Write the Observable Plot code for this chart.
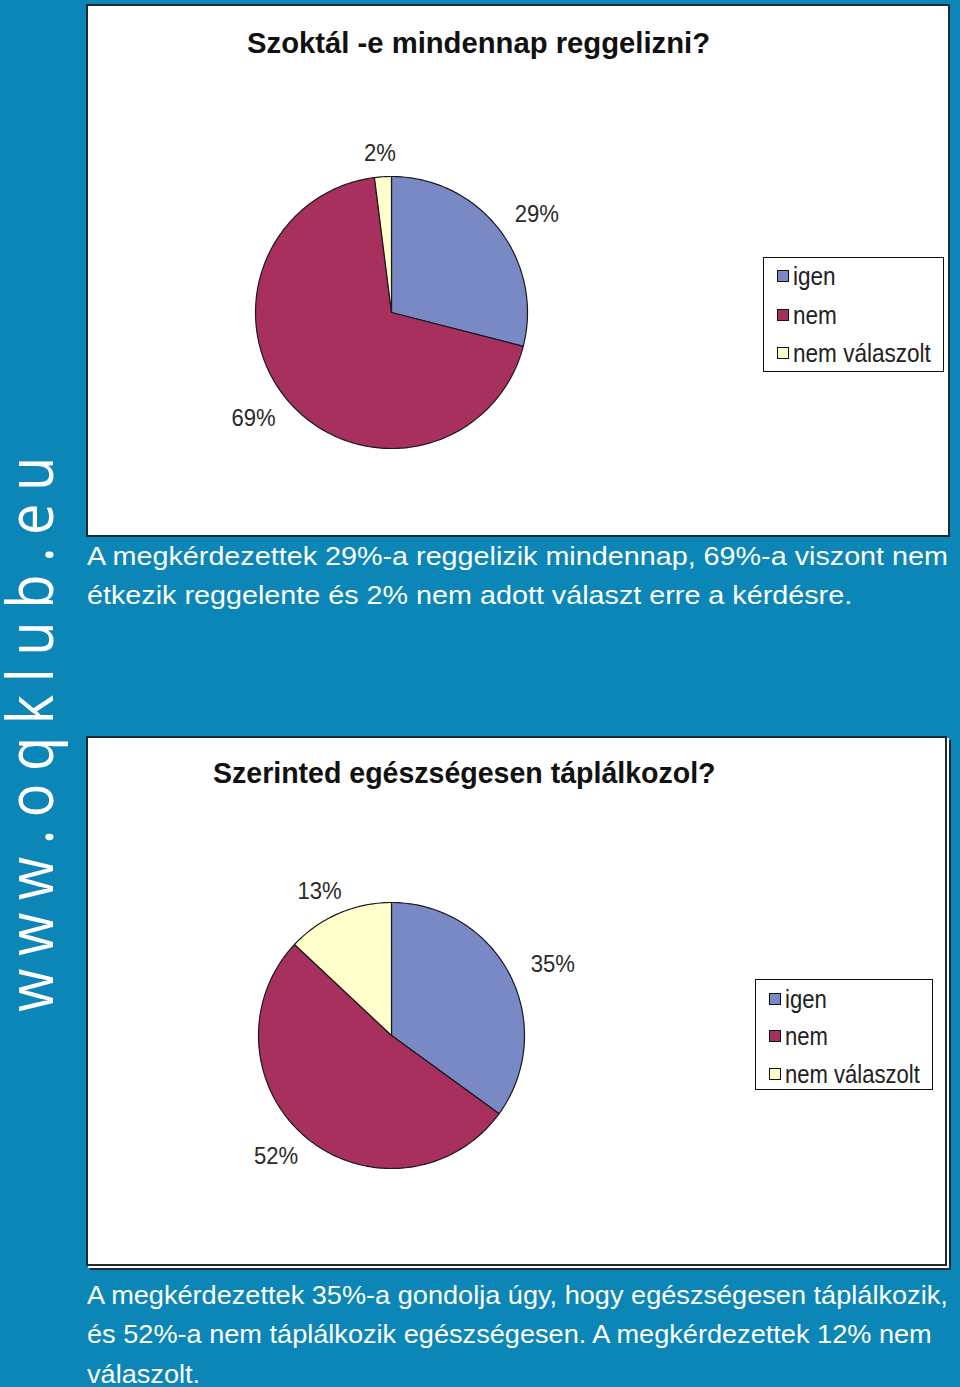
<!DOCTYPE html>
<html>
<head>
<meta charset="utf-8">
<script src="https://cdn.jsdelivr.net/npm/d3@7"></script>
<script src="https://cdn.jsdelivr.net/npm/@observablehq/plot@0.6"></script>
<style>
  html, body { margin: 0; padding: 0; }
  body { background: #0b86b6; width: 960px; height: 1387px; position: relative; overflow: hidden; }
  .panel { position: absolute; background: #fff; border: 2px solid #1c2b36; box-sizing: border-box; }
  .panel svg { position: absolute; left: 0; top: 0; }
  .ctitle { position: absolute; left: 0; white-space: nowrap; font-family: "Liberation Sans", Arial, sans-serif; font-weight: bold; font-size: 30px; line-height: 34px; color: #111; transform-origin: left top; }
  .legend { position: absolute; border: 1.5px solid #111; background: #fff; box-sizing: border-box; font-family: "Liberation Sans", Arial, sans-serif; font-size: 25px; color: #222; }
  .legend .item { position: absolute; left: 13px; white-space: nowrap; display: flex; align-items: center; }
  .legend .sw { width: 12px; height: 12px; border: 1.5px solid #111; box-sizing: border-box; margin-right: 4px; flex: none; }
  .legend .tx { display: inline-block; transform-origin: left center; }
  .caption { position: absolute; left: 87px; white-space: nowrap; font-family: "Liberation Sans", Arial, sans-serif; font-size: 26px; line-height: 30px; color: #fff; transform-origin: left top; }
  #site { position: absolute; left: 0; top: 420px; }
</style>
</head>
<body>
<svg id="site" width="70" height="610">
  <text transform="translate(53,592) rotate(-90) scale(1,1.15)" fill="#fff"
        style="font-family: 'Open Sans', 'Liberation Sans', sans-serif; font-weight: 400; font-size: 56px; letter-spacing: 12.5px;">www.oqklub.eu</text>
</svg>
<div id="root"></div>
<script>
// ---- data ----
const categories = ["igen", "nem", "nem válaszolt"];
const sliceColors = ["#7889c6", "#a8305f", "#ffffcc"];
const q1Title = "Szoktál -e mindennap reggelizni?";
const q1Values = [29, 69, 2];
const q2Title = "Szerinted egészségesen táplálkozol?";
const q2Values = [35, 52, 13];
const caption1 = ["A megkérdezettek 29%-a reggelizik mindennap, 69%-a viszont nem",
                  "étkezik reggelente és 2% nem adott választ erre a kérdésre."];
const caption2 = ["A megkérdezettek 35%-a gondolja úgy, hogy egészségesen táplálkozik,",
                  "és  52%-a nem táplálkozik egészségesen. A megkérdezettek 12% nem",
                  "válaszolt."];

// ---- layout ----
const charts = [
  {title: q1Title, values: q1Values, left: 86, top: 4, w: 864, h: 533, cx: 305, cy: 308, R: 136,
   titleX: 392, titleY: 20, titleW: 463, legTextW: 138,
   leg: {x: 677, y: 253, w: 181, h: 115, rows: [18, 57, 95]},
   caption: caption1, capTop: 541, capW: 861, shadow: false},
  {title: q2Title, values: q2Values, left: 86, top: 736, w: 861, h: 530, cx: 305, cy: 299, R: 133,
   titleX: 378, titleY: 18, titleW: 503, legTextW: 135,
   leg: {x: 669, y: 243, w: 178, h: 111, rows: [19, 56, 94]},
   caption: caption2, capTop: 1280, capW: 861, shadow: true}
];

function pieRows(values) {
  const total = d3.sum(values);
  const rows = [];
  const labels = [];
  let acc = 0;
  values.forEach((v, i) => {
    const a0 = acc / total * 2 * Math.PI;
    const a1 = (acc + v) / total * 2 * Math.PI;
    acc += v;
    const key = categories[i];
    rows.push({key, x: 0, y: 0});
    const n = Math.max(2, Math.ceil((a1 - a0) / (Math.PI / 180)));
    for (let k = 0; k <= n; k++) {
      const a = a0 + (a1 - a0) * k / n;
      rows.push({key, x: Math.sin(a), y: Math.cos(a)});
    }
    rows.push({key, x: 0, y: 0});
    labels.push({key, am: (a0 + a1) / 2, text: v + "%"});
  });
  return {rows, labels};
}

const root = document.getElementById("root");
charts.forEach(c => {
  const panel = document.createElement("div");
  panel.className = "panel";
  Object.assign(panel.style, {left: c.left + "px", top: c.top + "px", width: c.w + "px", height: c.h + "px"});
  if (c.shadow) panel.style.boxShadow = "2px 2px 0 0 #ffffff, 4px 4px 0 0 #1c2b36";
  root.appendChild(panel);

  const {rows, labels} = pieRows(c.values);
  const lab = labels.map(l => ({
    text: l.text,
    x: Math.sin(l.am) * (c.R + 48) / c.R,
    y: Math.cos(l.am) * (c.R + 24) / c.R
  }));
  const W = c.w - 4, H = c.h - 4;
  const cx = c.cx - 2, cy = c.cy - 2;
  const svg = Plot.plot({
    width: W, height: H, margin: 0,
    x: {domain: [-cx / c.R, (W - cx) / c.R], range: [0, W], axis: null},
    y: {domain: [-(H - cy) / c.R, cy / c.R], range: [H, 0], axis: null},
    color: {domain: categories, range: sliceColors},
    style: {background: "transparent"},
    marks: [
      Plot.line(rows, {x: "x", y: "y", z: "key", fill: "key", stroke: "#1a1a1a", strokeWidth: 1.2, curve: "linear"}),
      Plot.text(lab, {x: "x", y: "y", text: "text", fontSize: 24, fill: "#2a2a2a",
        fontFamily: "'Liberation Sans', Arial, sans-serif", className: "pct"})
    ]
  });
  panel.appendChild(svg);
  svg.querySelectorAll(".pct text").forEach(t => {
    const len = t.getComputedTextLength();
    t.setAttribute("textLength", (len * 0.92).toFixed(1));
    t.setAttribute("lengthAdjust", "spacingAndGlyphs");
  });

  const t = document.createElement("div");
  t.className = "ctitle";
  t.textContent = c.title;
  panel.appendChild(t);
  const tw = t.offsetWidth;
  t.style.transform = `scaleX(${c.titleW / tw})`;
  t.style.top = c.titleY + "px";
  t.style.left = (c.titleX - 2 - c.titleW / 2) + "px";

  const lg = document.createElement("div");
  lg.className = "legend";
  Object.assign(lg.style, {left: (c.leg.x - 2) + "px", top: (c.leg.y - 2) + "px", width: c.leg.w + "px", height: c.leg.h + "px"});
  panel.appendChild(lg);
  const spans = [];
  categories.forEach((cat, i) => {
    const it = document.createElement("div");
    it.className = "item";
    it.style.top = (c.leg.rows[i] - 15) + "px";
    it.style.height = "30px";
    const sw = document.createElement("div");
    sw.className = "sw";
    sw.style.background = sliceColors[i];
    const tx = document.createElement("span");
    tx.className = "tx";
    tx.textContent = cat;
    it.appendChild(sw); it.appendChild(tx);
    lg.appendChild(it);
    spans.push(tx);
  });
  const legScale = c.legTextW / spans[spans.length - 1].offsetWidth;
  spans.forEach(s => s.style.transform = `scaleX(${legScale})`);

  const lines = c.caption.map((line, i) => {
    const d = document.createElement("div");
    d.className = "caption";
    d.textContent = line;
    d.style.top = (c.capTop + i * 39.3) + "px";
    root.appendChild(d);
    return d;
  });
  const capScale = c.capW / lines[0].offsetWidth;
  lines.forEach(d => d.style.transform = `scaleX(${capScale})`);
});
</script>
</body>
</html>
